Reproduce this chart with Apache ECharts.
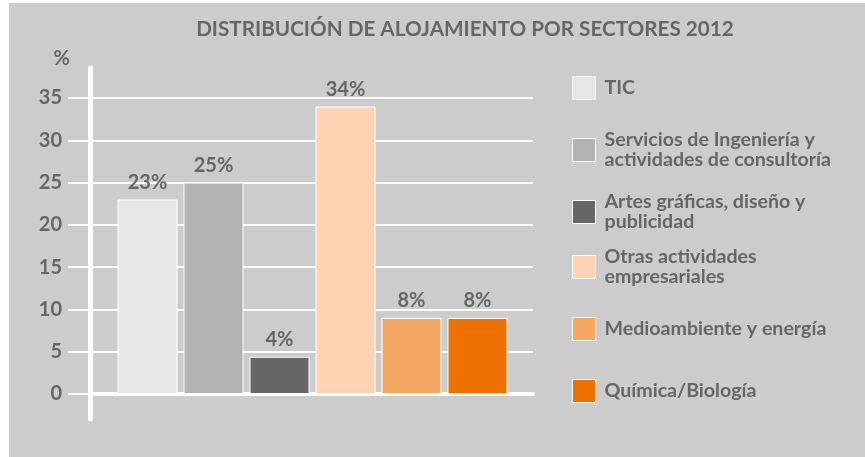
<!DOCTYPE html>
<html>
<head>
<meta charset="utf-8">
<script src="https://cdn.jsdelivr.net/npm/echarts@6/dist/echarts.min.js"></script>
<style>
  html, body { margin: 0; padding: 0; background: #ffffff; }
  #chart { position: absolute; left: 9px; top: 3px; width: 856px; height: 454px; }
</style>
</head>
<body>
<div id="chart"></div>
<script>
// datos
const years = ['2012'];
const sectors = [
  'TIC',
  'Servicios de Ingeniería y\nactividades de consultoría',
  'Artes gráficas, diseño y\npublicidad',
  'Otras actividades\nempresariales',
  'Medioambiente y energía',
  'Química/Biología'
];
const values = [23, 25, 4.4, 34, 9, 9];
const valueLabels = ['23%', '25%', '4%', '34%', '8%', '8%'];

const colors = ['#e6e6e6', '#b3b3b3', '#666666', '#fbd3b3', '#f5a864', '#ed7000'];
const legendTops = [73, 127, 189, 244, 314, 376];

const font = 'Lato, "Open Sans", sans-serif';
const textColor = '#666666';

const chart = echarts.init(document.getElementById('chart'));

const series = sectors.map((name, i) => ({
  name: name,
  type: 'bar',
  xAxisIndex: 0,
  yAxisIndex: 0,
  data: [values[i]],
  barWidth: 60,
  barGap: '10%',
  itemStyle: {
    color: colors[i],
    borderColor: '#ffffff',
    borderWidth: 1
  },
  label: {
    show: true,
    position: 'top',
    distance: 7,
    formatter: valueLabels[i],
    color: textColor,
    fontFamily: font,
    fontWeight: 'bold',
    fontSize: 20
  }
}));

const legends = sectors.map((name, i) => ({
  data: [name],
  orient: 'vertical',
  left: 563,
  top: legendTops[i],
  padding: 0,
  itemWidth: 23,
  itemHeight: 23,
  icon: 'rect',
  selectedMode: false,
  itemStyle: {
    borderColor: '#ffffff',
    borderWidth: 1
  },
  textStyle: {
    color: textColor,
    fontFamily: font,
    fontWeight: 'bold',
    fontSize: 19.6,
    lineHeight: 20,
    padding: [0, 0, 0, 4]
  }
}));

const option = {
  backgroundColor: '#cccccc',
  animation: false,
  title: {
    text: 'DISTRIBUCIÓN DE ALOJAMIENTO POR SECTORES 2012',
    left: 456,
    top: 16,
    padding: 0,
    textAlign: 'center',
    textStyle: {
      color: textColor,
      fontFamily: font,
      fontWeight: 'bold',
      fontSize: 20.7
    }
  },
  legend: legends,
  grid: [
    { left: 83, top: 95, width: 441, height: 296 },
    { left: 81, top: 65, width: 441, height: 351 }
  ],
  xAxis: [
    {
      type: 'category',
      gridIndex: 0,
      data: years,
      axisLine: { lineStyle: { color: '#ffffff', width: 4 } },
      axisTick: { show: false },
      axisLabel: { show: false }
    },
    {
      type: 'category',
      gridIndex: 1,
      data: years,
      show: false
    }
  ],
  yAxis: [
    {
      type: 'value',
      gridIndex: 0,
      min: 0,
      max: 35,
      interval: 5,
      name: '%',
      nameLocation: 'end',
      nameGap: 39,
      nameTextStyle: {
        color: textColor,
        fontFamily: font,
        fontWeight: 'bold',
        fontSize: 20,
        align: 'right',
        verticalAlign: 'middle',
        padding: [0, 22, 0, 0]
      },
      axisLine: { show: false },
      axisTick: { show: true, length: 24, lineStyle: { color: '#ffffff', width: 2 } },
      splitLine: { lineStyle: { color: '#ffffff', width: 2 } },
      axisLabel: {
        margin: 30,
        color: textColor,
        fontFamily: font,
        fontWeight: 'bold',
        fontSize: 20
      }
    },
    {
      type: 'value',
      gridIndex: 1,
      min: 0,
      max: 1,
      axisLine: { show: true, lineStyle: { color: '#ffffff', width: 5 } },
      axisTick: { show: false },
      axisLabel: { show: false },
      splitLine: { show: false }
    }
  ],
  series: series
};

chart.setOption(option);
</script>
</body>
</html>
